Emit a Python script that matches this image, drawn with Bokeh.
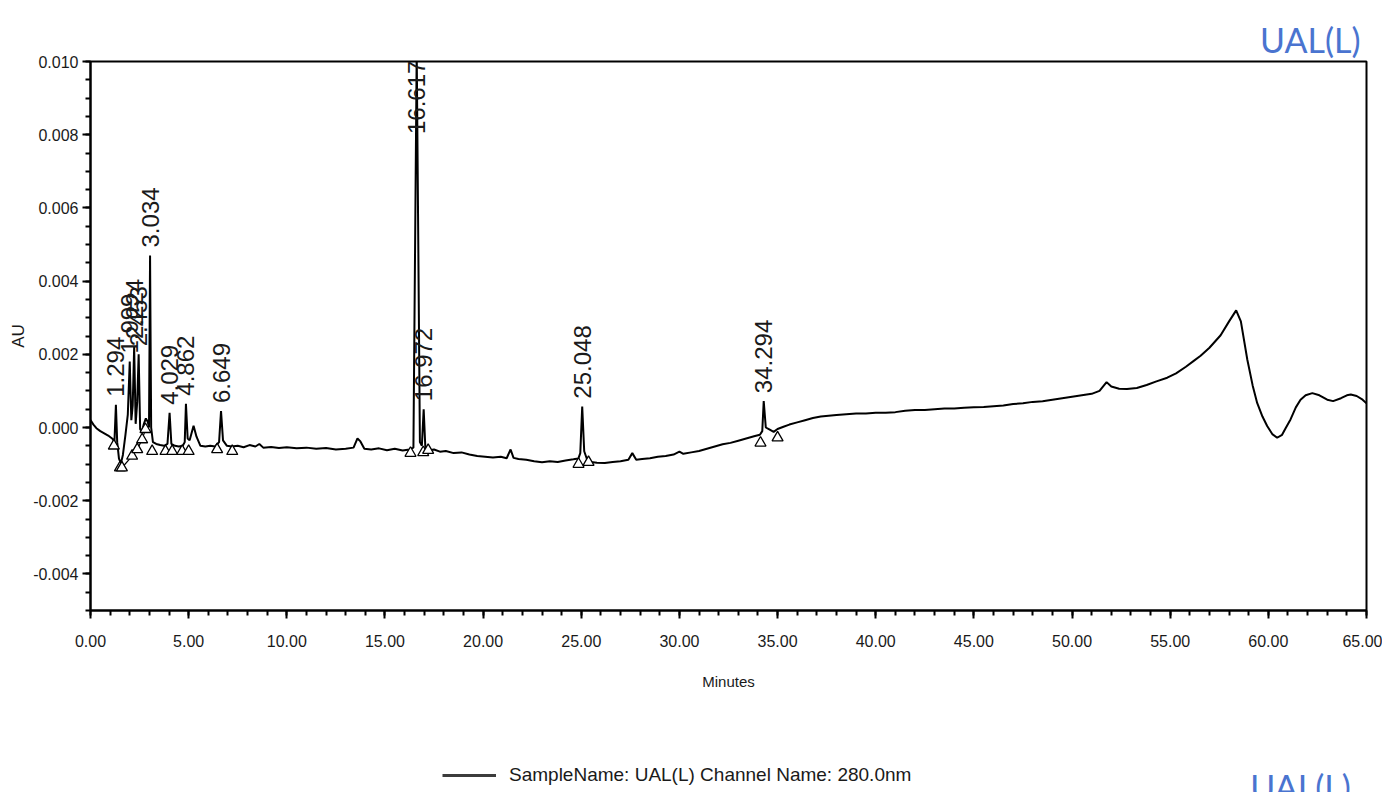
import math
from bokeh.plotting import figure
from bokeh.layouts import column
from bokeh.models import (Range1d, FixedTicker, NumeralTickFormatter, Label,
                          Legend, LegendItem, ColumnDataSource)
from bokeh.core.properties import value
from bokeh.embed import file_html
from bokeh.resources import INLINE

# ---------------- data ----------------
time_min = [0.00, 0.15, 0.30, 0.50, 0.70, 0.90, 1.10, 1.22, 1.294, 1.36, 1.45, 1.55, 1.65, 1.78, 1.90,
            1.999, 2.08, 2.15, 2.224, 2.30, 2.38, 2.453, 2.53, 2.62, 2.72, 2.82, 2.92, 2.98, 3.034, 3.09,
            3.18, 3.35, 3.55, 3.75, 3.92, 4.029, 4.12, 4.30, 4.50, 4.70, 4.80, 4.862, 4.95, 5.05, 5.25,
            5.40, 5.60, 5.85, 6.10, 6.35, 6.55, 6.649, 6.75, 6.95, 7.20, 7.50, 7.80, 8.10, 8.40, 8.60,
            8.80, 9.20, 9.60, 10.0, 10.5, 11.0, 11.5, 12.0, 12.5, 13.0, 13.4, 13.6, 13.75, 13.95, 14.3,
            14.7, 15.1, 15.5, 15.9, 16.25, 16.45, 16.617, 16.78, 16.88, 16.972, 17.06, 17.25, 17.5, 17.8,
            18.1, 18.5, 18.9, 19.3, 19.7, 20.1, 20.5, 20.9, 21.2, 21.4, 21.55, 21.8, 22.2, 22.6, 23.0,
            23.4, 23.8, 24.2, 24.6, 24.85, 24.95, 25.048, 25.15, 25.3, 25.5, 25.8, 26.2, 26.6, 27.0, 27.4,
            27.6, 27.8, 28.1, 28.5, 28.9, 29.3, 29.7, 30.0, 30.2, 30.6, 31.0, 31.4, 31.8, 32.2, 32.6,
            33.0, 33.4, 33.8, 34.1, 34.22, 34.294, 34.4, 34.6, 34.8, 35.0, 35.3, 35.6, 36.0, 36.4, 36.8,
            37.2, 37.6, 38.0, 38.5, 39.0, 39.5, 40.0, 40.5, 41.0, 41.5, 42.0, 42.5, 43.0, 43.5, 44.0,
            44.5, 45.0, 45.5, 46.0, 46.5, 47.0, 47.5, 48.0, 48.5, 49.0, 49.5, 50.0, 50.5, 51.0, 51.4,
            51.76, 52.0, 52.4, 52.8, 53.3, 53.8, 54.3, 54.85, 55.3, 55.8, 56.2, 56.55, 57.0, 57.57, 58.0,
            58.36, 58.6, 58.93, 59.2, 59.43, 59.7, 59.94, 60.2, 60.45, 60.7, 60.9, 61.13, 61.4, 61.64, 61.9,
            62.24, 62.6, 63.0, 63.3, 63.7, 64.0, 64.2, 64.5, 64.8, 65.0]

absorbance_au = [0.00020, 0.00008, -0.00002, -0.00010, -0.00016, -0.00022, -0.00030, -0.00038, 0.00062, -0.00040,
                 -0.00085, -0.00098, -0.00075, -0.00020, 0.00035,
                 0.00180, 0.00020, 0.00060, 0.00220, 0.00010, 0.00070, 0.00200, -0.00005, -0.00010, 0.00010,
                 0.00025, 0.00015, 0.00000, 0.00470, 0.00000,
                 -0.00040, -0.00045, -0.00048, -0.00050, -0.00045, 0.00040, -0.00045, -0.00050, -0.00052, -0.00050,
                 -0.00040, 0.00065, -0.00030, -0.00035, 0.00005,
                 -0.00025, -0.00050, -0.00052, -0.00050, -0.00052, -0.00040, 0.00045, -0.00035, -0.00050, -0.00052,
                 -0.00050, -0.00054, -0.00048, -0.00052, -0.00045,
                 -0.00055, -0.00053, -0.00056, -0.00054, -0.00057, -0.00055, -0.00058, -0.00056, -0.00060, -0.00058,
                 -0.00055, -0.00030, -0.00038, -0.00058, -0.00060,
                 -0.00057, -0.00062, -0.00058, -0.00063, -0.00060, -0.00055, 0.01030, -0.00040, -0.00050, 0.00050,
                 -0.00058, -0.00062, -0.00060, -0.00066,
                 -0.00064, -0.00070, -0.00068, -0.00074, -0.00078, -0.00080, -0.00082, -0.00080, -0.00084, -0.00060,
                 -0.00083, -0.00086, -0.00088, -0.00092, -0.00095,
                 -0.00092, -0.00094, -0.00090, -0.00087, -0.00085, -0.00070, 0.00057, -0.00065, -0.00088, -0.00094,
                 -0.00096, -0.00097, -0.00094, -0.00092, -0.00088,
                 -0.00070, -0.00088, -0.00086, -0.00084, -0.00080, -0.00078, -0.00074, -0.00066, -0.00072, -0.00068,
                 -0.00064, -0.00058, -0.00052, -0.00046, -0.00042,
                 -0.00036, -0.00030, -0.00024, -0.00020, -0.00010, 0.00072, 0.00000, -0.00006, -0.00012, -0.00004,
                 0.00002, 0.00008, 0.00014, 0.00020, 0.00026,
                 0.00030, 0.00032, 0.00034, 0.00036, 0.00038, 0.00038, 0.00040, 0.00040, 0.00042, 0.00046,
                 0.00048, 0.00048, 0.00050, 0.00052, 0.00052,
                 0.00054, 0.00055, 0.00056, 0.00058, 0.00060, 0.00064, 0.00066, 0.00070, 0.00072, 0.00076,
                 0.00080, 0.00084, 0.00088, 0.00092, 0.00100,
                 0.00124, 0.00112, 0.00106, 0.00105, 0.00108, 0.00116, 0.00126, 0.00136, 0.00148, 0.00166,
                 0.00182, 0.00196, 0.00218, 0.00252, 0.00290,
                 0.00320, 0.00290, 0.00185, 0.00115, 0.00067, 0.00030, 0.00004, -0.00018, -0.00028, -0.00020,
                 0.00000, 0.00022, 0.00055, 0.00076, 0.00088,
                 0.00094, 0.00088, 0.00076, 0.00072, 0.00080, 0.00088, 0.00090, 0.00086, 0.00076, 0.00066]

peak_times = [1.294, 1.999, 2.224, 2.453, 3.034, 4.029, 4.862, 6.649, 16.617, 16.972, 25.048, 34.294]
peak_labels = ["1.294", "1.999", "2.224", "2.453", "3.034", "4.029", "4.862", "6.649",
               "16.617", "16.972", "25.048", "34.294"]

# integration start / end marks
mark_times = [1.19, 1.50, 1.60, 2.12, 2.38, 2.63, 2.80, 3.14, 3.82, 4.16, 4.67, 5.00, 6.45, 7.22,
              16.30, 16.95, 17.20, 24.86, 25.37, 34.13, 35.00]
mark_au = [-0.00050, -0.00110, -0.00110, -0.00078, -0.00060, -0.00033, -0.00005, -0.00065, -0.00065,
           -0.00065, -0.00065, -0.00065, -0.00060, -0.00065, -0.00070, -0.00068, -0.00062, -0.00100,
           -0.00095, -0.00042, -0.00028]

x_major_ticks = [0, 5, 10, 15, 20, 25, 30, 35, 40, 45, 50, 55, 60, 65]
x_minor_ticks = list(range(0, 66))
y_major_ticks = [-0.004, -0.002, 0.000, 0.002, 0.004, 0.006, 0.008, 0.010]
y_minor_ticks = [round(-0.005 + 0.0005 * i, 4) for i in range(31)]

sample_title = "UAL(L)"
legend_text = "SampleName: UAL(L) Channel Name: 280.0nm"

# ---------------- main chart ----------------
SANS = "Liberation Sans"
TXT = "#1a1a1a"
BLUE = "#4a74d0"
W = 1382

p = figure(width=W, height=700,
           min_border_left=90, min_border_right=16, min_border_top=61, min_border_bottom=90,
           x_range=Range1d(0, 65), y_range=Range1d(-0.005, 0.010),
           output_backend="svg", toolbar_location=None)
p.background_fill_color = "white"
p.border_fill_color = "white"
p.grid.visible = False
p.outline_line_color = "black"
p.outline_line_width = 2

p.title.text = sample_title
p.title.align = "right"
p.title.text_font = "Lato"
p.title.text_font_style = "normal"
p.title.text_font_size = "34px"
p.title.text_color = BLUE
p.title.standoff = 4
p.title.offset = 6

trace = p.line(time_min, absorbance_au, line_color="black", line_width=2)

# baseline segment across the early cluster, and integration marks
p.line(mark_times[2:7], mark_au[2:7], line_color="black", line_width=1.2)
p.scatter(mark_times, mark_au, marker="triangle", size=11, fill_color="white",
          line_color="black", line_width=1.3)

# peak labels
lookup = dict(zip(time_min, absorbance_au))
label_y = [min(lookup[t], 0.0078) for t in peak_times]
src = ColumnDataSource(dict(x=peak_times, y=label_y, t=peak_labels))
p.text(x="x", y="y", text="t", source=src, angle=math.pi / 2, text_align="left",
       text_baseline="middle", y_offset=-8, text_font=value(SANS),
       text_font_size="24px", text_color=TXT)

# axes
p.xaxis.ticker = FixedTicker(ticks=x_major_ticks, minor_ticks=x_minor_ticks)
p.yaxis.ticker = FixedTicker(ticks=y_major_ticks, minor_ticks=y_minor_ticks)
p.xaxis.formatter = NumeralTickFormatter(format="0.00")
p.yaxis.formatter = NumeralTickFormatter(format="0.000")
for ax in (p.xaxis[0], p.yaxis[0]):
    ax.axis_line_width = 2
    ax.axis_line_color = "black"
    ax.major_tick_in = 0
    ax.major_tick_out = 8
    ax.minor_tick_in = 0
    ax.minor_tick_out = 5
    ax.major_tick_line_width = 2
    ax.minor_tick_line_width = 2
    ax.major_label_text_font = SANS
    ax.major_label_text_font_size = "16px"
    ax.major_label_text_color = TXT
    ax.axis_label_text_font = SANS
    ax.axis_label_text_font_style = "normal"
    ax.axis_label_text_color = TXT
p.xaxis.axis_label = "Minutes"
p.xaxis.axis_label_text_font_size = "15px"
p.xaxis.major_label_standoff = 16
p.xaxis.axis_label_standoff = 23
p.yaxis.axis_label = "AU"
p.yaxis.axis_label_text_font_size = "17px"
p.yaxis.major_label_standoff = 4
p.yaxis.axis_label_standoff = 2

# ---------------- strip below: legend and next sample title ----------------
H2 = 92
s = figure(width=W, height=H2, x_range=Range1d(0, W), y_range=Range1d(0, H2),
           x_axis_type=None, y_axis_type=None, min_border=0,
           output_backend="svg", toolbar_location=None)
s.outline_line_color = None
s.background_fill_color = "white"
s.border_fill_color = "white"
key = s.line(x=[-20, -10], y=[-20, -20], line_color="#3c3c3c", line_width=3)
legend = Legend(items=[LegendItem(label=legend_text, renderers=[key])],
                location=(352, 6), orientation="horizontal",
                glyph_width=54, glyph_height=20, label_standoff=13, padding=0, margin=0,
                border_line_color=None, background_fill_alpha=0,
                label_text_font=SANS, label_text_font_size="19px", label_text_color=TXT)
s.add_layout(legend, "center")
s.add_layout(Label(x=1365, y=27, text=sample_title, text_align="right", text_baseline="top",
                   text_font="Lato", text_font_size="34px", text_color=BLUE))

open("out.html", "w").write(file_html(column(p, s, spacing=0), INLINE))
